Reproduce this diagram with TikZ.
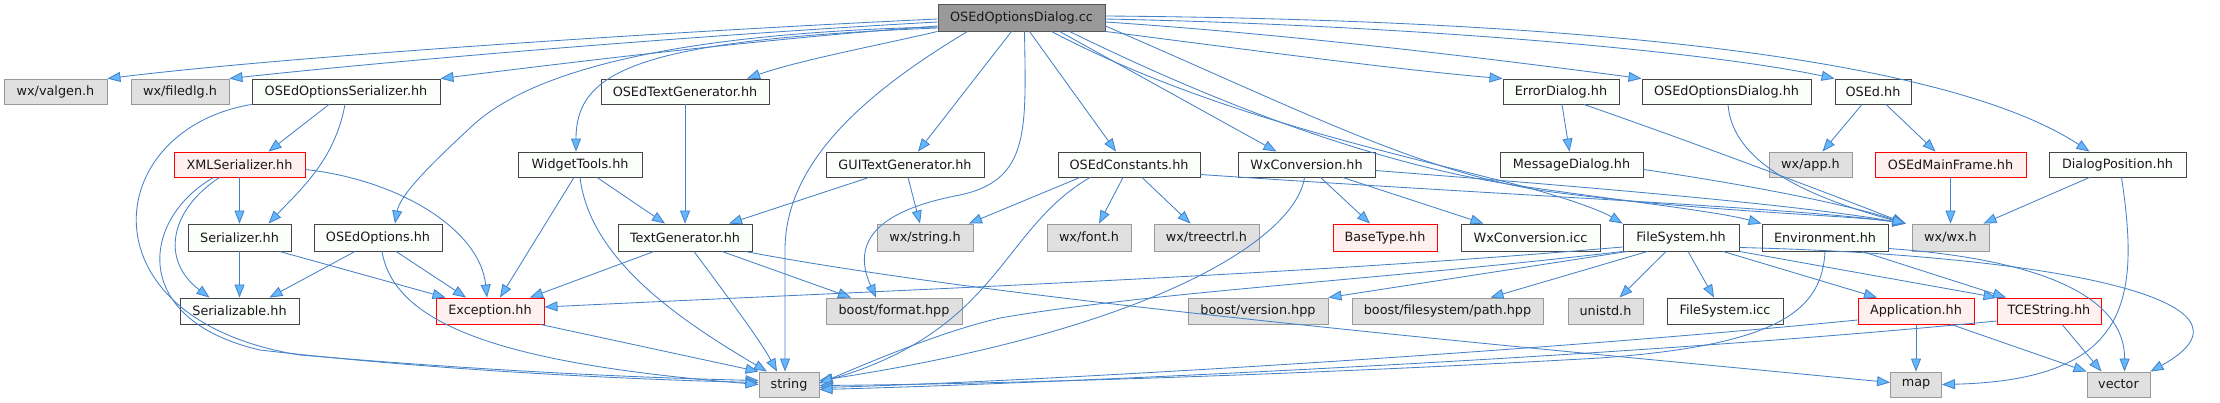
\documentclass[tikz,border=0pt]{standalone}
\usepackage{fontspec}
\setmainfont{DejaVu Sans}
\usetikzlibrary{arrows.meta}
\definecolor{edgecol}{HTML}{4682C8}
\definecolor{arrowfill}{HTML}{63B8FF}
\definecolor{plainfill}{HTML}{FCFEFC}
\definecolor{plaindraw}{HTML}{444444}
\definecolor{extfill}{HTML}{E0E0E0}
\definecolor{extdraw}{HTML}{999999}
\definecolor{truncfill}{HTML}{FFF0F0}
\definecolor{rootfill}{HTML}{999999}
\definecolor{rootdraw}{HTML}{555555}
\newcommand\mknode[7]{\node[#2,minimum width=#5pt,minimum height=#6pt] (#1) at (#3,#4) {#7};}
\begin{document}
\begin{tikzpicture}[x=1pt,y=-1pt,
  nbox/.style={inner sep=0pt, line width=0.9pt, font=\fontsize{12.8}{15}\selectfont, text=black!90},
  nodeplain/.style={nbox, fill=plainfill, draw=plaindraw},
  nodeext/.style={nbox, fill=extfill, draw=extdraw},
  nodetrunc/.style={nbox, fill=truncfill, draw=red},
  noderoot/.style={nbox, fill=rootfill, draw=rootdraw},
  depline/.style={draw=edgecol, line width=0.85pt, -{Triangle[length=13pt,width=10pt,fill=arrowfill]}}]
\fill[white] (0,0) rectangle (2220,403);
\useasboundingbox (0,0) rectangle (2220,403);
% row 1
\mknode{root}{noderoot}{1021.5}{17.5}{167}{27}{OSEdOptionsDialog.cc}
% row 2
\mknode{valgen}{nodeext}{55.5}{91.5}{103}{25}{wx/valgen.h}
\mknode{filedlg}{nodeext}{180}{91.5}{98}{25}{wx/filedlg.h}
\mknode{osser}{nodeplain}{346}{91.5}{188}{25}{OSEdOptionsSerializer.hh}
\mknode{ostg}{nodeplain}{685}{91.5}{168}{25}{OSEdTextGenerator.hh}
\mknode{errd}{nodeplain}{1561}{91.5}{116}{25}{ErrorDialog.hh}
\mknode{osdlg}{nodeplain}{1726.5}{91.5}{169}{25}{OSEdOptionsDialog.hh}
\mknode{osed}{nodeplain}{1873}{91.5}{76}{25}{OSEd.hh}
% row 3
\mknode{xmlser}{nodetrunc}{239.5}{164.5}{131}{25}{XMLSerializer.hh}
\mknode{widget}{nodeplain}{580}{164.5}{124}{25}{WidgetTools.hh}
\mknode{guitg}{nodeplain}{905}{164.5}{158}{25}{GUITextGenerator.hh}
\mknode{oscon}{nodeplain}{1129}{164.5}{142}{25}{OSEdConstants.hh}
\mknode{wxconv}{nodeplain}{1306.5}{164.5}{137}{25}{WxConversion.hh}
\mknode{msgd}{nodeplain}{1571.5}{164.5}{143}{25}{MessageDialog.hh}
\mknode{wxapp}{nodeext}{1810.5}{164.5}{83}{25}{wx/app.h}
\mknode{mainfr}{nodetrunc}{1950.5}{164.5}{151}{25}{OSEdMainFrame.hh}
\mknode{dlgpos}{nodeplain}{2117.5}{164.5}{137}{25}{DialogPosition.hh}
% row 4
\mknode{ser}{nodeplain}{239.5}{237.5}{103}{27}{Serializer.hh}
\mknode{osopt}{nodeplain}{378}{237.5}{128}{27}{OSEdOptions.hh}
\mknode{tg}{nodeplain}{685}{237.5}{134}{27}{TextGenerator.hh}
\mknode{wxstr}{nodeext}{925}{237.5}{96}{27}{wx/string.h}
\mknode{wxfont}{nodeext}{1089}{237.5}{84}{27}{wx/font.h}
\mknode{wxtree}{nodeext}{1206.5}{237.5}{105}{27}{wx/treectrl.h}
\mknode{basetype}{nodetrunc}{1385}{237.5}{104}{27}{BaseType.hh}
\mknode{wxicc}{nodeplain}{1530.5}{237.5}{139}{27}{WxConversion.icc}
\mknode{fs}{nodeplain}{1681}{237.5}{116}{27}{FileSystem.hh}
\mknode{env}{nodeplain}{1825}{237.5}{126}{27}{Environment.hh}
\mknode{wxwx}{nodeext}{1950.5}{237.5}{77}{27}{wx/wx.h}
% row 5
\mknode{serial}{nodeplain}{239.5}{311}{119}{26}{Serializable.hh}
\mknode{exc}{nodetrunc}{490}{311}{108}{26}{Exception.hh}
\mknode{bfmt}{nodeext}{894}{311}{136}{26}{boost/format.hpp}
\mknode{bver}{nodeext}{1258}{311}{140}{26}{boost/version.hpp}
\mknode{bpath}{nodeext}{1447.5}{311}{191}{26}{boost/filesystem/path.hpp}
\mknode{unistd}{nodeext}{1605.5}{311}{75}{26}{unistd.h}
\mknode{fsicc}{nodeplain}{1725}{311}{116}{26}{FileSystem.icc}
\mknode{app}{nodetrunc}{1916}{311}{116}{26}{Application.hh}
\mknode{tcestr}{nodetrunc}{2049}{311}{104}{26}{TCEString.hh}
% row 6
\mknode{string}{nodeext}{789}{384.5}{60}{25}{string}
\mknode{map}{nodeext}{1916}{384.5}{51}{25}{map}
\mknode{vector}{nodeext}{2118.5}{384.5}{63}{25}{vector}

% ---- edges from root
\draw[depline] ([yshift=-1.5]root.west) .. controls (700,30) and (300,55) .. (valgen.north east);
\draw[depline] ([yshift=-4.5]root.west) .. controls (700,35) and (400,60) .. (filedlg.north east);
\draw[depline] ([yshift=-8.5]root.west) .. controls (750,40) and (550,65) .. (osser.north east);
\draw[depline] (root.south west) .. controls (880,45) and (800,60) .. ([xshift=62]ostg.north);
\draw[depline] ([yshift=-10.5]root.west) .. controls (640,40) and (576,70) .. ([xshift=-4]widget.north);
\draw[depline] ([yshift=-9.5]root.west) .. controls (720,32) and (540,60) .. (470,128) .. controls (430,165) and (400,195) .. ([xshift=17]osopt.north);
\draw[depline] ([xshift=-10]root.south) -- ([xshift=13]guitg.north);
\draw[depline] ([xshift=-54]root.south) .. controls (870,90) and (785,160) .. (785,250) -- ([xshift=-4]string.north);
\draw[depline] ([xshift=3]root.south) .. controls (1026,130) and (1030,180) .. (960,195) .. controls (880,210) and (850,240) .. ([xshift=-18]bfmt.north);
\draw[depline] ([xshift=8]root.south) -- ([xshift=-13]oscon.north);
\draw[depline] ([xshift=38]root.south) -- ([xshift=-30]wxconv.north);
\draw[depline] (root.south east) .. controls (1250,50) and (1400,70) .. (errd.north west);
\draw[depline] ([yshift=-4.5]root.east) .. controls (1300,35) and (1500,60) .. (osdlg.north west);
\draw[depline] ([yshift=-1.5]root.east) .. controls (1400,25) and (1700,50) .. (osed.north west);
\draw[depline] ([yshift=1.5]root.east) .. controls (1600,20) and (1950,60) .. ([xshift=-28]dlgpos.north);
\draw[depline] ([xshift=30]root.south) .. controls (1200,110) and (1380,150) .. (1490,178) .. controls (1560,195) and (1600,210) .. (fs.north west);
\draw[depline] ([xshift=48]root.south) .. controls (1250,120) and (1400,168) .. (1520,186) .. controls (1640,203) and (1720,212) .. (env.north west);
\draw[depline] ([yshift=-8.5]root.east) .. controls (1300,110) and (1420,172) .. (1545,191) .. controls (1700,212) and (1850,215) .. ([xshift=-6]wxwx.north west);

% ---- OSEdOptionsSerializer
\draw[depline] ([xshift=-17]osser.south) -- ([xshift=29]xmlser.north);
\draw[depline] ([xshift=-1]osser.south) .. controls (335,160) and (300,190) .. ([xshift=29]ser.north);
\draw[depline] (osser.south west) .. controls (100,130) and (80,320) .. (300,355) .. controls (500,372) and (650,378) .. ([yshift=4]string.west);
% ---- XMLSerializer
\draw[depline] (xmlser.south) -- (ser.north);
\draw[depline] ([xshift=-20]xmlser.south) .. controls (170,210) and (160,260) .. ([xshift=-30]serial.north);
\draw[depline] ([xshift=-26]xmlser.south) .. controls (140,220) and (130,320) .. (260,350) .. controls (450,372) and (650,380) .. ([yshift=2]string.west);
\draw[depline] ([yshift=-5]xmlser.east) .. controls (400,180) and (480,230) .. ([xshift=-3]exc.north);
% ---- Serializer
\draw[depline] (ser.south) -- (serial.north);
\draw[depline] ([xshift=40]ser.south) -- ([xshift=10]exc.north west);
% ---- OSEdOptions
\draw[depline] ([xshift=-23]osopt.south) -- ([xshift=30]serial.north);
\draw[depline] ([xshift=18]osopt.south) -- ([xshift=-24]exc.north);
\draw[depline] ([xshift=4]osopt.south) .. controls (395,330) and (520,365) .. ([yshift=0]string.west);
% ---- WidgetTools
\draw[depline] ([xshift=-6]widget.south) -- ([xshift=10]exc.north);
\draw[depline] ([xshift=17]widget.south) -- ([xshift=-20]tg.north);
\draw[depline] (widget.south) .. controls (590,260) and (680,320) .. ([xshift=-22]string.north);
% ---- text generators
\draw[depline] (ostg.south) -- (tg.north);
\draw[depline] ([xshift=-36]guitg.south) -- ([xshift=44]tg.north);
\draw[depline] ([xshift=3]guitg.south) -- ([xshift=-5]wxstr.north);
% ---- TextGenerator
\draw[depline] ([xshift=-31]tg.south) -- ([xshift=40]exc.north);
\draw[depline] ([xshift=9]tg.south) .. controls (730,300) and (760,340) .. ([xshift=-12]string.north);
\draw[depline] ([xshift=37]tg.south) -- ([xshift=-43]bfmt.north);
\draw[depline] ([xshift=60]tg.south) .. controls (1000,300) and (1500,345) .. ([yshift=2]map.west);
% ---- OSEdConstants
\draw[depline] ([xshift=-49]oscon.south) -- ([xshift=44]wxstr.north);
\draw[depline] ([xshift=-39]oscon.south) .. controls (1000,230) and (1000,330) .. ([yshift=2]string.east);
\draw[depline] ([xshift=-6]oscon.south) -- ([xshift=10]wxfont.north);
\draw[depline] ([xshift=13]oscon.south) -- ([xshift=-16]wxtree.north);
\draw[depline] ([yshift=-10]oscon.east) .. controls (1500,195) and (1800,208) .. ([xshift=-6]wxwx.north west);
% ---- WxConversion
\draw[depline] ([xshift=-2]wxconv.south) .. controls (1295,240) and (1150,330) .. ([yshift=4]string.east);
\draw[depline] ([xshift=14]wxconv.south) -- ([xshift=-15]basetype.north);
\draw[depline] ([xshift=36]wxconv.south) -- ([xshift=-47]wxicc.north);
\draw[depline] ([yshift=-6]wxconv.east) .. controls (1600,188) and (1800,205) .. ([xshift=-6]wxwx.north west);
% ---- dialogs
\draw[depline] ([xshift=1]errd.south) -- ([xshift=-2]msgd.north);
\draw[depline] ([xshift=23]errd.south) .. controls (1700,145) and (1820,190) .. ([xshift=-6]wxwx.north west);
\draw[depline] ([yshift=-5]msgd.east) .. controls (1750,185) and (1850,205) .. ([xshift=-6]wxwx.north west);
\draw[depline] ([xshift=1.5]osdlg.south) .. controls (1732,160) and (1800,195) .. ([xshift=-6]wxwx.north west);
\draw[depline] ([xshift=-11]osed.south) -- ([xshift=12]wxapp.north);
\draw[depline] ([xshift=13]osed.south) -- ([xshift=-15]mainfr.north);
\draw[depline] (mainfr.south) -- (wxwx.north);
\draw[depline] ([xshift=-28]dlgpos.south) -- ([xshift=-6]wxwx.north east);
\draw[depline] ([xshift=4]dlgpos.south) .. controls (2140,300) and (2130,380) .. (map.east);
% ---- FileSystem
\draw[depline] ([yshift=-9.5]fs.west) .. controls (1300,275) and (900,290) .. ([yshift=4]exc.east);
\draw[depline] (fs.south west) .. controls (1400,278) and (1150,292) .. (1000,318) .. controls (940,332) and (870,362) .. ([yshift=1]string.east);
\draw[depline] ([xshift=5]fs.south west) -- (bver.north east);
\draw[depline] ([xshift=25]fs.south west) -- ([xshift=43]bpath.north);
\draw[depline] ([xshift=-15]fs.south) -- ([xshift=14]unistd.north);
\draw[depline] ([xshift=7]fs.south) -- ([xshift=-11]fsicc.north);
\draw[depline] ([xshift=42]fs.south) -- ([xshift=-39]app.north);
\draw[depline] (fs.south east) -- (tcestr.north west);
\draw[depline] ([yshift=-10]fs.east) .. controls (2050,255) and (2280,300) .. (vector.north east);
% ---- Environment
\draw[depline] (env.south) .. controls (1822,310) and (1780,345) .. (1600,358) .. controls (1300,375) and (1000,384) .. ([yshift=-1]string.east);
\draw[depline] ([xshift=37]env.south) -- ([xshift=-43]tcestr.north);
\draw[depline] ([yshift=-11]env.east) .. controls (2050,260) and (2125,300) .. ([xshift=6]vector.north);
% ---- Application / TCEString / Exception
\draw[depline] ([yshift=-9]app.west) .. controls (1500,355) and (1000,383) .. ([yshift=-3]string.east);
\draw[depline] (app.south) -- (map.north);
\draw[depline] ([xshift=35]app.south) -- (vector.north west);
\draw[depline] ([yshift=-10]tcestr.west) .. controls (1600,360) and (1000,385) .. ([yshift=-5]string.east);
\draw[depline] ([xshift=13]tcestr.south) -- ([xshift=-17]vector.north);
\draw[depline] ([xshift=-4]exc.south east) -- (string.north west);
\end{tikzpicture}
\end{document}
